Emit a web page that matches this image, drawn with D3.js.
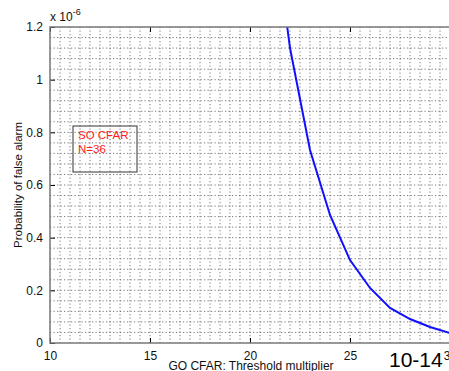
<!DOCTYPE html>
<html>
<head>
<meta charset="utf-8">
<script src="https://cdn.jsdelivr.net/npm/d3@7"></script>
<style>
  body { margin: 0; background: #fff; overflow: hidden; }
  text { font-family: "Liberation Sans", Arial, sans-serif; }
</style>
</head>
<body>
<div id="chart"></div>
<script>
// data (Pfa in units of 1e-6)
const thresholds = [21, 22, 23, 24, 25, 26, 27, 28, 29, 30];
const pfa = [1.70, 1.12, 0.733, 0.486, 0.315, 0.209, 0.133, 0.091, 0.061, 0.038];
const xTicks = [10, 15, 20, 25, 30];
const yTicks = [0, 0.2, 0.4, 0.6, 0.8, 1, 1.2];
const legendLines = ["SO CFAR", "N=36"];

const margin = {top: 27, left: 50},
      width = 400,
      height = 316;

const svg = d3.select("#chart")
    .append("svg")
    .attr("width", 449)
    .attr("height", 371);

const g = svg.append("g")
    .attr("transform", `translate(${margin.left}, ${margin.top})`);

const x = d3.scaleLinear().domain([10, 30]).range([0, width]);
const y = d3.scaleLinear().domain([0, 1.2]).range([height, 0]);

// dotted grid
g.append("g").selectAll("line")
    .data(d3.range(10.5, 30, 0.5))
    .join("line")
    .attr("x1", d => x(d)).attr("x2", d => x(d))
    .attr("y1", 0).attr("y2", height)
    .attr("stroke", "#555").attr("stroke-width", 0.8)
    .attr("stroke-dasharray", "1.2,2.3");

g.append("g").selectAll("line")
    .data(d3.range(1, 30).map(i => i * 0.04))
    .join("line")
    .attr("x1", 0).attr("x2", width)
    .attr("y1", d => y(d)).attr("y2", d => y(d))
    .attr("stroke", "#555").attr("stroke-width", 0.8)
    .attr("stroke-dasharray", "1.2,2.3");

// clip for the curve
svg.append("clipPath").attr("id", "clip")
    .append("rect").attr("width", width).attr("height", height);

const line = d3.line()
    .x((d, i) => x(thresholds[i]))
    .y(d => y(d));

g.append("path")
    .datum(pfa)
    .attr("clip-path", "url(#clip)")
    .attr("fill", "none")
    .attr("stroke", "#1010ff")
    .attr("stroke-width", 2)
    .attr("d", line);

// axes (ticks inward)
const fmt = d => d3.format("~g")(d);
g.append("g")
    .attr("transform", `translate(0, ${height})`)
    .call(d3.axisBottom(x).tickValues(xTicks).tickSize(-5).tickPadding(8).tickFormat(fmt))
    .call(a => a.select(".domain").remove());
g.append("g")
    .call(d3.axisLeft(y).tickValues(yTicks).tickSize(-5).tickPadding(7).tickFormat(fmt))
    .call(a => a.select(".domain").remove());
g.append("g")
    .call(d3.axisTop(x).tickValues(xTicks).tickSize(-5).tickFormat(""))
    .call(a => a.select(".domain").remove());
g.selectAll(".tick text").attr("font-size", 12).attr("fill", "#111")
    .attr("font-family", "'Liberation Sans', Arial, sans-serif");

// frame
g.append("rect")
    .attr("width", width).attr("height", height)
    .attr("fill", "none").attr("stroke", "#777").attr("stroke-width", 1.5);

// exponent label
const ex = svg.append("text").attr("x", 50).attr("y", 21).attr("font-size", 12).attr("fill", "#111");
ex.append("tspan").text("x 10");
ex.append("tspan").attr("dy", -6).attr("font-size", 9).text("-6");

// axis labels
svg.append("text")
    .attr("text-anchor", "middle")
    .attr("transform", `translate(22, ${margin.top + height / 2}) rotate(-90)`)
    .attr("font-size", 11.5)
    .attr("fill", "#111")
    .text("Probability of false alarm");

svg.append("text")
    .attr("x", 251).attr("y", 370)
    .attr("text-anchor", "middle")
    .attr("font-size", 12)
    .attr("fill", "#111")
    .text("GO CFAR: Threshold multiplier");

// legend box (transparent)
const lg = svg.append("g").attr("transform", "translate(73, 126)");
lg.append("rect").attr("width", 64).attr("height", 46)
    .attr("fill", "none").attr("stroke", "#333").attr("stroke-width", 1);
lg.selectAll("text").data(legendLines).join("text")
    .attr("x", 5).attr("y", (d, i) => 13 + i * 14)
    .attr("font-size", 11.5)
    .attr("fill", "#ff2020")
    .text(d => d);

// slide page number
svg.append("text")
    .attr("x", 389).attr("y", 367)
    .attr("font-size", 21)
    .attr("fill", "#000")
    .text("10-14");
</script>
</body>
</html>
